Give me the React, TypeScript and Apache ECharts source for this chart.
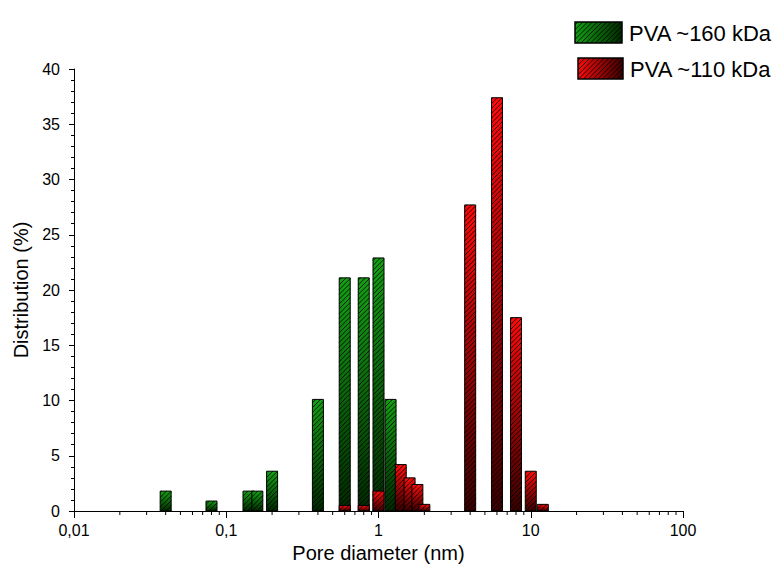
import React, { useEffect, useRef } from "react";
import * as echarts from "echarts";

// ---- data ----
const xTickLabels = ["0,01", "0,1", "1", "10", "100"];
const yTicks = [0, 5, 10, 15, 20, 25, 30, 35, 40];

const greenName = "PVA ~160 kDa";
const greenX = [0.04, 0.08, 0.14, 0.16, 0.2, 0.4, 0.6, 0.8, 1.0, 1.2];
const greenY = [1.8, 0.9, 1.8, 1.8, 3.6, 10.1, 21.1, 21.1, 22.9, 10.1];

const redName = "PVA ~110 kDa";
const redX = [0.6, 0.8, 1.0, 1.4, 1.6, 1.8, 2.0, 4, 6, 8, 10, 12];
const redY = [0.5, 0.5, 1.8, 4.2, 3.0, 2.4, 0.6, 27.7, 37.4, 17.5, 3.6, 0.6];

const xMinorTicks = [
  0.02, 0.03, 0.04, 0.05, 0.06, 0.07, 0.08, 0.09,
  0.2, 0.3, 0.4, 0.5, 0.6, 0.7, 0.8, 0.9,
  2, 3, 4, 5, 6, 7, 8, 9,
  20, 30, 40, 50, 60, 70, 80, 90,
];

// ---- styles ----
const FONT = "'Liberation Sans', Arial, sans-serif";
const BAR_W = 11;
const HATCH_STEP = 4.8;
const GREEN_TOP = "#14a014";
const GREEN_BOTTOM = "#002800";
const RED_TOP = "#ff0a0a";
const RED_BOTTOM = "#380000";

function hatch(x0: number, y0: number, w: number, h: number) {
  const lines: any[] = [];
  const start = Math.ceil((x0 + y0) / HATCH_STEP) * HATCH_STEP;
  const end = x0 + w + y0 + h;
  for (let c = start; c < end; c += HATCH_STEP) {
    const xa = Math.max(x0, c - (y0 + h));
    const xb = Math.min(x0 + w, c - y0);
    if (xb - xa > 0.3) {
      lines.push({
        type: "line",
        shape: { x1: xa, y1: c - xa, x2: xb, y2: c - xb },
        style: { stroke: "rgba(0,0,0,0.8)", lineWidth: 1 },
        silent: true,
      });
    }
  }
  return lines;
}

function makeRender(top: string, bottom: string) {
  return (params: any, api: any) => {
    const xv = api.value(0);
    const yv = api.value(1);
    const p1 = api.coord([xv, yv]);
    const p0 = api.coord([xv, 0]);
    const x0 = p1[0] - BAR_W / 2;
    const y0 = p1[1];
    const h = p0[1] - p1[1];
    return {
      type: "group",
      children: [
        {
          type: "rect",
          shape: { x: x0, y: y0, width: BAR_W, height: h },
          style: {
            fill: new echarts.graphic.LinearGradient(0, 0, 0, 1, [
              { offset: 0, color: top },
              { offset: 1, color: bottom },
            ]),
          },
        },
        ...hatch(x0, y0, BAR_W, h),
        {
          type: "rect",
          shape: { x: x0, y: y0, width: BAR_W, height: h },
          style: { fill: "none", stroke: "#000", lineWidth: 1 },
        },
      ],
    };
  };
}

function legendItem(x: number, y: number, w: number, h: number, c1: string, c2: string, label: string) {
  return {
    type: "group",
    children: [
      {
        type: "rect",
        shape: { x, y, width: w, height: h },
        style: {
          fill: new echarts.graphic.LinearGradient(0, 0, 1, 0, [
            { offset: 0, color: c1 },
            { offset: 1, color: c2 },
          ]),
        },
      },
      ...hatch(x, y, w, h),
      {
        type: "rect",
        shape: { x, y, width: w, height: h },
        style: { fill: "none", stroke: "#000", lineWidth: 1.5 },
      },
      {
        type: "text",
        x: x + w + 7,
        y: y + h / 2 + 1,
        style: {
          text: label,
          font: `22px ${FONT}`,
          fill: "#000",
          textVerticalAlign: "middle",
          verticalAlign: "middle",
        },
      },
    ],
  };
}

export default function App() {
  const ref = useRef<HTMLDivElement>(null);
  useEffect(() => {
    if (!ref.current) return;
    const chart = echarts.init(ref.current, undefined, { renderer: "svg" });
    const option: any = {
      animation: false,
      backgroundColor: "#fff",
      grid: { left: 74, right: 91, top: 69, bottom: 63, containLabel: false },
      xAxis: {
        type: "log",
        logBase: 10,
        min: 0.01,
        max: 100,
        name: "Pore diameter (nm)",
        nameLocation: "middle",
        nameGap: 32,
        nameTextStyle: { fontFamily: FONT, fontSize: 20, color: "#000" },
        axisLine: { show: true, onZero: false, lineStyle: { color: "#000", width: 1 } },
        axisTick: { show: true, length: 7, lineStyle: { color: "#000" } },
        minorTick: { show: false },
        splitLine: { show: false },
        minorSplitLine: { show: false },
        axisLabel: {
          fontFamily: FONT,
          fontSize: 16,
          color: "#000",
          margin: 11,
          formatter: (v: number) => {
            const k = Math.round(Math.log10(v)) + 2;
            return xTickLabels[k] ?? "";
          },
        },
      },
      yAxis: {
        type: "value",
        min: yTicks[0],
        max: yTicks[yTicks.length - 1],
        interval: 5,
        name: "Distribution (%)",
        nameLocation: "middle",
        nameGap: 43,
        nameTextStyle: { fontFamily: FONT, fontSize: 20, color: "#000" },
        axisLine: { show: true, lineStyle: { color: "#000", width: 1 } },
        axisTick: { show: true, length: 5, lineStyle: { color: "#000" } },
        minorTick: { show: true, splitNumber: 5, length: 3, lineStyle: { color: "#000" } },
        splitLine: { show: false },
        axisLabel: { fontFamily: FONT, fontSize: 16, color: "#000", margin: 14 },
      },
      graphic: [
        legendItem(575, 22, 47, 21, GREEN_TOP, GREEN_BOTTOM, greenName),
        legendItem(578, 58, 45, 21, RED_TOP, RED_BOTTOM, redName),
      ],
      series: [
        {
          type: "custom",
          name: greenName,
          renderItem: makeRender(GREEN_TOP, GREEN_BOTTOM),
          encode: { x: 0, y: 1 },
          data: greenX.map((x, i) => [x, greenY[i]]),
          clip: false,
          z: 2,
        },
        {
          type: "custom",
          name: redName,
          renderItem: makeRender(RED_TOP, RED_BOTTOM),
          encode: { x: 0, y: 1 },
          data: redX.map((x, i) => [x, redY[i]]),
          clip: false,
          z: 3,
        },
        {
          type: "custom",
          name: "minorTicks",
          silent: true,
          renderItem: (params: any, api: any) => {
            const p = api.coord([api.value(0), 0]);
            return {
              type: "line",
              shape: { x1: p[0], y1: p[1], x2: p[0], y2: p[1] + 4 },
              style: { stroke: "#000", lineWidth: 1 },
            };
          },
          encode: { x: 0, y: 1 },
          data: xMinorTicks.map((x) => [x, 0]),
          clip: false,
          z: 4,
        },
      ],
    };
    chart.setOption(option);
    return () => chart.dispose();
  }, []);
  return (
    <div
      ref={ref}
      style={{ position: "fixed", left: 0, top: 0, width: 774, height: 574, background: "#fff" }}
    />
  );
}
